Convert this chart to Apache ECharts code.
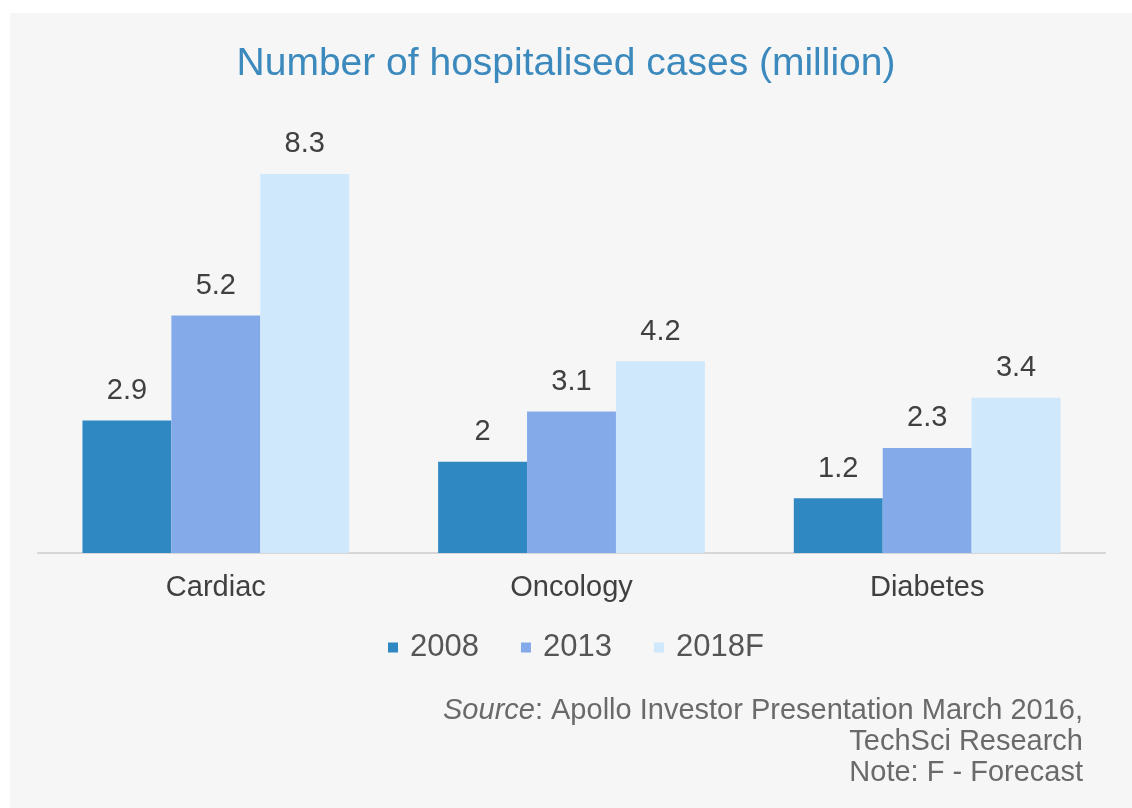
<!DOCTYPE html>
<html>
<head>
<meta charset="utf-8">
<style>
  html, body { margin: 0; padding: 0; background: #ffffff; }
  #chart { width: 1132px; height: 808px; }
</style>
<script src="https://cdn.jsdelivr.net/npm/echarts@6/dist/echarts.min.js"></script>
</head>
<body>
<div id="chart"></div>
<script>
// Hospitalised cases by therapy area (million)
const categories = ['Cardiac', 'Oncology', 'Diabetes'];
const seriesNames = ['2008', '2013', '2018F'];
const values2008 = [2.9, 2.0, 1.2];
const values2013 = [5.2, 3.1, 2.3];
const values2018F = [8.3, 4.2, 3.4];
const palette = ['#2f88c2', '#84aaea', '#cfe8fb'];
const footnotes = [
  '{i|Source}: Apollo Investor Presentation March 2016,',
  'TechSci Research',
  'Note: F - Forecast'
];

const chart = echarts.init(document.getElementById('chart'), null, { renderer: 'canvas' });

const textFont = '"Liberation Sans", Arial, sans-serif';

function barSeries(name, data, color) {
  return {
    name: name,
    type: 'bar',
    data: data,
    barGap: '0%',
    barCategoryGap: '25%',
    itemStyle: { color: color },
    label: {
      show: true,
      position: 'top',
      distance: 15,
      color: '#404040',
      fontSize: 29,
      fontFamily: textFont,
      formatter: p => String(p.value)
    }
  };
}

// footnote block, right-aligned line by line
const footnoteGraphics = footnotes.map((line, i) => ({
  type: 'text',
  right: 49,
  top: 696 + i * 31,
  style: {
    text: line,
    fill: '#6a6a6a',
    font: '29px "Liberation Sans", Arial, sans-serif',
    rich: { i: { fontStyle: 'italic', fontSize: 29, fontFamily: textFont, fill: '#6a6a6a' } }
  }
}));

chart.setOption({
  backgroundColor: '#ffffff',
  animation: false,
  graphic: [
    { type: 'rect', z: -10, shape: { x: 10, y: 13, width: 1122, height: 795 }, style: { fill: '#f6f6f6' } }
  ].concat(footnoteGraphics),
  title: {
    text: 'Number of hospitalised cases (million)',
    left: 'center',
    top: 40,
    textStyle: { color: '#3b89bd', fontSize: 39, fontWeight: 'normal', fontFamily: textFont }
  },
  legend: {
    data: seriesNames,
    top: 627,
    left: 383,
    icon: 'rect',
    itemWidth: 10,
    itemHeight: 10,
    itemGap: 42,
    textStyle: { color: '#555555', fontSize: 31, fontFamily: textFont, padding: [0, 0, 0, 7] }
  },
  grid: { left: 38, right: 27, top: 142, bottom: 255 },
  xAxis: {
    type: 'category',
    data: categories,
    axisLine: { lineStyle: { color: '#d6d6d6', width: 2 } },
    axisTick: { show: false },
    axisLabel: { color: '#404040', fontSize: 29, fontFamily: textFont, margin: 20 }
  },
  yAxis: {
    type: 'value',
    min: 0,
    max: 9,
    show: false,
    splitLine: { show: false }
  },
  series: [
    barSeries(seriesNames[0], values2008, palette[0]),
    barSeries(seriesNames[1], values2013, palette[1]),
    barSeries(seriesNames[2], values2018F, palette[2])
  ]
});
</script>
</body>
</html>
